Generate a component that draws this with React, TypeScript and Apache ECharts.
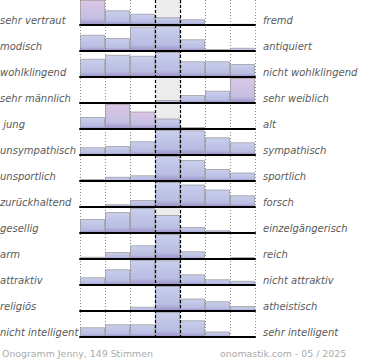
import React, { useEffect, useRef } from "react";
import * as echarts from "echarts";

const leftLabels = [
  "sehr vertraut", "modisch", "wohlklingend", "sehr männlich", " jung",
  "unsympathisch", "unsportlich", "zurückhaltend", "gesellig", "arm",
  "attraktiv", "religiös", "nicht intelligent",
];
const rightLabels = [
  "fremd", "antiquiert", "nicht wohlklingend", "sehr weiblich", "alt",
  "sympathisch", "sportlich", "forsch", "einzelgängerisch", "reich",
  "nicht attraktiv", "atheistisch", "sehr intelligent",
];
const scaleSteps = ["1", "2", "3", "4", "5", "6", "7"];

// share of votes per step, relative to the row's largest step (percent)
const ratings = [
  [100, 59, 45, 31, 23, 0, 5],
  [65, 52, 98, 100, 47, 8, 13],
  [73, 89, 85, 100, 63, 63, 52],
  [0, 0, 0, 12, 32, 49, 100],
  [48, 100, 70, 42, 8, 0, 0],
  [31, 36, 55, 100, 99, 71, 51],
  [8, 17, 23, 100, 84, 48, 34],
  [0, 11, 28, 100, 90, 70, 47],
  [56, 84, 100, 72, 24, 11, 0],
  [9, 28, 55, 100, 31, 0, 8],
  [31, 63, 100, 99, 43, 23, 17],
  [0, 0, 17, 100, 50, 39, 20],
  [39, 51, 51, 100, 67, 22, 4],
];
// [row, step] pairs drawn in the pink tone
const highlighted = [[0, 0], [3, 6], [4, 1], [4, 2]];

const footerLeft = "Onogramm Jenny, 149 Stimmen";
const footerRight = "onomastik.com - 05 / 2025";

const PLOT_LEFT = 80;
const PLOT_WIDTH = 175;
const ROW_STEP = 26;
const ROW_HEIGHT = 25;

const blueFill = new echarts.graphic.LinearGradient(0, 0, 0, 1, [
  { offset: 0, color: "#c9cfec" },
  { offset: 0.75, color: "#b9bde3" },
  { offset: 1, color: "#9d92c9" },
]);
const pinkFill = new echarts.graphic.LinearGradient(0, 0, 0, 1, [
  { offset: 0, color: "#dcc6e6" },
  { offset: 0.75, color: "#c3bfe2" },
  { offset: 1, color: "#9d92c9" },
]);

export default function App() {
  const ref = useRef<HTMLDivElement>(null);
  useEffect(() => {
    if (!ref.current) return;
    const chart = echarts.init(ref.current, null, { renderer: "svg" });
    const n = ratings.length;
    const grids: any[] = [
      { left: PLOT_LEFT, width: PLOT_WIDTH, top: 0, height: ROW_STEP * (n - 1) + ROW_HEIGHT + 1 },
    ];
    const xAxes: any[] = [
      {
        gridIndex: 0, type: "value", min: 0, max: 7, interval: 1, z: 0,
        axisLine: { show: false }, axisTick: { show: false }, axisLabel: { show: false },
        splitLine: { show: true, lineStyle: { color: "#8a8a8a", type: [1, 2], width: 1 } },
      },
    ];
    const yAxes: any[] = [
      { gridIndex: 0, type: "value", min: 0, max: 1, show: false, splitLine: { show: false } },
    ];
    const series: any[] = [
      {
        type: "line", xAxisIndex: 0, yAxisIndex: 0, data: [], z: 1, silent: true,
        markArea: {
          silent: true,
          itemStyle: { color: "#ececec" },
          data: [[{ xAxis: 3 }, { xAxis: 4 }]],
        },
      },
      {
        type: "line", xAxisIndex: 0, yAxisIndex: 0, data: [], z: 10, silent: true,
        markLine: {
          silent: true, symbol: "none", label: { show: false },
          lineStyle: { color: "#000", type: [3, 2], width: 1.2 },
          data: [{ xAxis: 3 }, { xAxis: 4 }],
        },
      },
    ];
    const graphics: any[] = [];
    ratings.forEach((row, i) => {
      const gi = i + 1;
      grids.push({ left: PLOT_LEFT, width: PLOT_WIDTH, top: ROW_STEP * i, height: ROW_HEIGHT });
      xAxes.push({
        gridIndex: gi, type: "category", data: scaleSteps, z: 5,
        axisLine: { show: true, lineStyle: { color: "#000", width: 2 } },
        axisTick: { show: false }, axisLabel: { show: false }, splitLine: { show: false },
      });
      yAxes.push({ gridIndex: gi, type: "value", min: 0, max: 100, show: false, splitLine: { show: false } });
      series.push({
        type: "bar", xAxisIndex: gi, yAxisIndex: gi, z: 2,
        barCategoryGap: "0%",
        data: row.map((v, j) => ({
          value: v,
          itemStyle: {
            color: highlighted.some(([r, c]) => r === i && c === j) ? pinkFill : blueFill,
            borderColor: "rgba(135,135,135,0.6)",
            borderWidth: v > 0 ? 1 : 0,
          },
        })),
      });
      const cy = ROW_STEP * i + ROW_HEIGHT - 5;
      graphics.push({
        type: "text", x: 0, y: cy,
        style: { text: leftLabels[i], fill: "#5a5a5a", fontSize: 10, fontStyle: "italic", fontFamily: "DejaVu Sans", verticalAlign: "middle", align: "left" },
      });
      graphics.push({
        type: "text", x: 263, y: cy,
        style: { text: rightLabels[i], fill: "#5a5a5a", fontSize: 10, fontStyle: "italic", fontFamily: "DejaVu Sans", verticalAlign: "middle", align: "left" },
      });
    });
    graphics.push({
      type: "text", x: 2, y: 353,
      style: { text: footerLeft, fill: "#aaaaaa", fontSize: 9.4, fontFamily: "DejaVu Sans", verticalAlign: "middle", align: "left" },
    });
    graphics.push({
      type: "text", x: 220, y: 353,
      style: { text: footerRight, fill: "#aaaaaa", fontSize: 9.4, fontFamily: "DejaVu Sans", verticalAlign: "middle", align: "left" },
    });

    chart.setOption({
      animation: false,
      backgroundColor: "#ffffff",
      grid: grids,
      xAxis: xAxes,
      yAxis: yAxes,
      series,
      graphic: graphics,
    });
    return () => chart.dispose();
  }, []);
  return (
    <div
      ref={ref}
      style={{ position: "fixed", left: 0, top: 0, width: 370, height: 360 }}
    />
  );
}
